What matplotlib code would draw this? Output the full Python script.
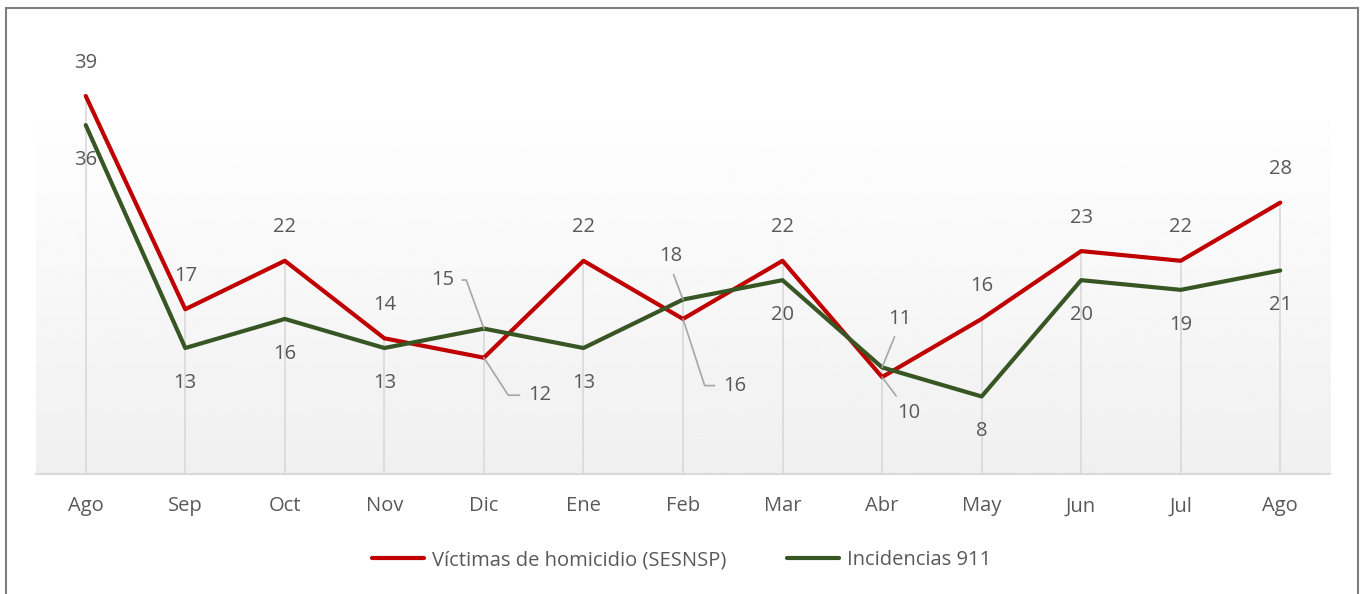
import numpy as np
import matplotlib.pyplot as plt
from matplotlib.patches import Rectangle

plt.rcParams["font.family"] = ["Open Sans", "DejaVu Sans"]

# Datos mensuales
meses = ["Ago", "Sep", "Oct", "Nov", "Dic", "Ene", "Feb", "Mar",
         "Abr", "May", "Jun", "Jul", "Ago"]
victimas = [39, 17, 22, 14, 12, 22, 16, 22, 10, 16, 23, 22, 28]
incidencias = [36, 13, 16, 13, 15, 13, 18, 20, 11, 8, 20, 19, 21]

ROJO = "#C00000"
VERDE = "#375623"
GRIS_TXT = "#595959"
GRIS_LIN = "#D9D9D9"
GRIS_GUIA = "#A6A6A6"
FS = 14.5

fig = plt.figure(figsize=(13.63, 5.94), dpi=100)
ax = fig.add_axes([0.0264, 0.202, 0.9494, 0.638])

x = np.arange(len(meses))
ymax = 39.1

# fondo degradado del área de trazado
grad = np.linspace(1.0, 0.94, 256).reshape(-1, 1)
ax.imshow(grad, extent=(-0.5, len(meses) - 0.5, 0, ymax), aspect="auto",
          cmap="gray", vmin=0, vmax=1, zorder=0, origin="upper")

# líneas de caída
tope = np.maximum(victimas, incidencias)
ax.vlines(x, 0, tope, color=GRIS_LIN, lw=1.2, zorder=1)

ax.plot(x, victimas, color=ROJO, lw=3, zorder=3, solid_capstyle="round",
        clip_on=False, label="Víctimas de homicidio (SESNSP)")
ax.plot(x, incidencias, color=VERDE, lw=3, zorder=3, solid_capstyle="round",
        clip_on=False, label="Incidencias 911")

# etiquetas con guía: índice -> (dx, dy en puntos, relpos, conexión)
off_rojo = {4: (40, -27, (0, 0.5), "angle,angleA=0,angleB=123,rad=0"),
            6: (37, -48, (0, 0.5), "angle,angleA=0,angleB=108,rad=0"),
            8: (19, -26, (0.2, 1), "arc3")}
off_verde = {4: (-30, 35, (1, 0.5), "angle,angleA=0,angleB=110,rad=0"),
             6: (-9, 31, (0.5, 0), "arc3"),
             8: (13, 35, (0.4, 0), "arc3")}

def etiquetar(valores, offs, dy_def):
    for i, v in enumerate(valores):
        if i in offs:
            dx, dy, rp, cs = offs[i]
            ax.annotate(str(v), (i, v), xytext=(dx, dy), textcoords="offset points",
                        ha="center", va="center", fontsize=FS, color=GRIS_TXT,
                        annotation_clip=False,
                        arrowprops=dict(arrowstyle="-", color=GRIS_GUIA, lw=1.2,
                                        relpos=rp, connectionstyle=cs,
                                        shrinkA=4, shrinkB=0), zorder=4)
        else:
            ax.annotate(str(v), (i, v), xytext=(0, dy_def), textcoords="offset points",
                        ha="center", va="center", fontsize=FS, color=GRIS_TXT,
                        annotation_clip=False, zorder=4)

etiquetar(victimas, off_rojo, 24)
etiquetar(incidencias, off_verde, -25)

ax.set_xlim(-0.5, len(meses) - 0.5)
ax.set_ylim(0, ymax)
ax.set_xticks(x, meses)
ax.set_yticks([])
ax.tick_params(axis="x", length=0, pad=16, labelsize=FS, labelcolor=GRIS_TXT)
for s in ["top", "right", "left"]:
    ax.spines[s].set_visible(False)
ax.spines["bottom"].set_color(GRIS_LIN)
ax.spines["bottom"].set_linewidth(1.5)

fig.legend(loc="center", bbox_to_anchor=(0.5, 0.057), ncol=2, frameon=False,
           fontsize=FS, labelcolor=GRIS_TXT, handlelength=2.6,
           columnspacing=3.0, handletextpad=0.4)

fig.add_artist(Rectangle((0.0044, -0.01), 0.9919, 0.9965, transform=fig.transFigure,
                         fill=False, edgecolor="#7F7F7F", lw=1.5))

fig.savefig("out.png", dpi=100)
